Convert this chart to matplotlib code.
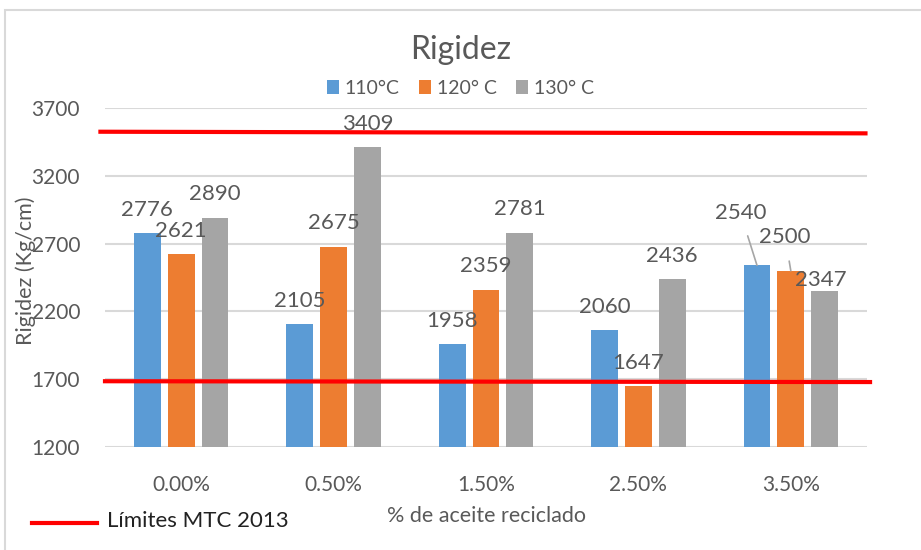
import matplotlib.pyplot as plt
from matplotlib.patches import Rectangle
from matplotlib.lines import Line2D
import numpy as np

plt.rcParams['font.family'] = ['Lato', 'DejaVu Sans']

categories = ['0.00%', '0.50%', '1.50%', '2.50%', '3.50%']
series_names = ['110°C', '120° C', '130° C']
t110 = [2776, 2105, 1958, 2060, 2540]
t120 = [2621, 2675, 2359, 1647, 2500]
t130 = [2890, 3409, 2781, 2436, 2347]
limits = [3525, 1685]
limit_label = 'Límites MTC 2013'

colors = ['#5b9bd5', '#ed7d31', '#a5a5a5']
txt = '#595959'

fig = plt.figure()
fig.set_size_inches(9.21, 5.5)
fig.patches.append(Rectangle((5 / 921, -0.1), 1.2, 1 - 10 / 550 + 0.1, transform=fig.transFigure,
                             fill=False, edgecolor='#d9d9d9', linewidth=1.5))
ax = fig.add_axes([105 / 921, 1 - 447 / 550, 762 / 921, 339 / 550])

x = np.arange(len(categories))
step = 0.222
width = 0.176
all_series = [t110, t120, t130]

# default label offsets (points) and special ones for the crowded last group
offsets = {}
offsets[(4, 0)] = (-12, 38)
offsets[(4, 1)] = (-4, 24)
offsets[(4, 2)] = (-3, 8)

for j, vals in enumerate(all_series):
    pos = x + (j - 1) * step
    ax.bar(pos, [v - 1200 for v in vals], width, bottom=1200, color=colors[j],
           label=series_names[j], zorder=2)
    for i, v in enumerate(vals):
        dx, dy = offsets.get((i, j), (0, 17))
        if (i, j) in [(4, 0), (4, 1)]:
            ax.annotate(str(v), xy=(pos[i], v), xytext=(dx, dy), textcoords='offset points',
                        ha='center', va='center', fontsize=16, color=txt,
                        arrowprops=dict(arrowstyle='-', color='#a6a6a6', lw=1.2,
                                        shrinkA=8, shrinkB=0), zorder=4)
        else:
            ax.annotate(str(v), xy=(pos[i], v), xytext=(dx, dy), textcoords='offset points',
                        ha='center', va='center', fontsize=16, color=txt, zorder=4)

ax.set_xlim(-0.5, len(categories) - 0.5)
ax.set_ylim(1200, 3700)
ax.set_yticks(np.arange(1200, 3701, 500))
ax.yaxis.grid(True, color='#d9d9d9', linewidth=1.5, zorder=0)
ax.set_axisbelow(True)
for s in ax.spines.values():
    s.set_visible(False)
ax.tick_params(length=0, labelsize=15, colors=txt)
ax.tick_params(axis='y', pad=18)
ax.tick_params(axis='x', pad=20)
ax.set_xticks(x)
ax.set_xticklabels(categories)

# red limit lines drawn on top
ax.plot([-0.53, 4.49], [limits[0], limits[0] - 12], color='red', lw=3, clip_on=False, zorder=5)
ax.plot([-0.5, 4.52], [limits[1], limits[1] - 6], color='red', lw=3, clip_on=False, zorder=5)

ax.set_ylabel('Rigidez (Kg/cm)', fontsize=15.5, color=txt)
ax.yaxis.set_label_coords(-0.09, 0.52)
ax.set_xlabel('% de aceite reciclado', fontsize=15.5, color=txt, labelpad=8)

fig.text(0.5, 1 - 50 / 550, 'Rigidez', ha='center', va='center', fontsize=23, color=txt)
ax.legend(loc='center', bbox_to_anchor=(0.5, 1 - 88 / 550), bbox_transform=fig.transFigure,
          ncol=3, frameon=False, fontsize=14, labelcolor=txt, handlelength=0.6,
          handleheight=0.7, handletextpad=0.3, columnspacing=1.0)

fig.add_artist(Line2D([32 / 921, 97 / 921], [1 - 523 / 550, 1 - 523 / 550], color='red', lw=3))
fig.text(107 / 921, 1 - 521 / 550, limit_label, ha='left', va='center', fontsize=16, color='#222222')

fig.savefig('out.png', dpi=100)
